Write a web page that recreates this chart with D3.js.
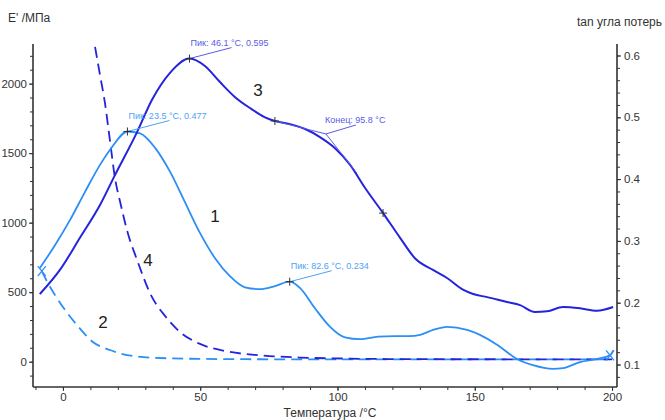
<!DOCTYPE html>
<html>
<head>
<meta charset="utf-8">
<script src="https://cdn.jsdelivr.net/npm/d3@7"></script>
<style>
  html, body { margin: 0; padding: 0; background: #fff; }
  svg { display: block; font-family: "Liberation Sans", Arial, sans-serif; }
</style>
</head>
<body>
<svg id="chart" width="665" height="420"></svg>
<script>
// Temperature sweep, °C
// Curve 1: tan δ, sample A (right axis)
const tan1T = [-8.4, -2.9, 2.6, 8.0, 13.5, 17.9, 23.5, 28.1, 33.5, 39.0, 44.4, 49.9, 55.4, 60.8, 66.3, 71.8, 77.2, 82.6, 86.3, 91.8, 97.3, 102.7, 108.2, 114.8, 120.9, 126.0, 130.1, 134.8, 139.9, 147.2, 151.9, 158.1, 165.4, 171.2, 178.5, 182.1, 188.3, 194.5, 199.3, 200.4];
const tan1V = [0.256, 0.293, 0.334, 0.379, 0.423, 0.452, 0.477, 0.474, 0.451, 0.412, 0.363, 0.313, 0.272, 0.243, 0.225, 0.222, 0.227, 0.234, 0.224, 0.191, 0.161, 0.144, 0.141, 0.145, 0.146, 0.146, 0.148, 0.156, 0.161, 0.156, 0.148, 0.132, 0.109, 0.099, 0.093, 0.094, 0.104, 0.109, 0.115, 0.123];

// Curve 3: tan δ, sample B (right axis)
const tan3T = [-8.4, -1.1, 6.2, 13.5, 18.9, 27.0, 32.4, 39.0, 46.1, 51.7, 57.2, 62.6, 68.1, 73.6, 77.2, 82.7, 88.2, 93.6, 99.1, 104.6, 110.0, 116.6, 122.8, 128.2, 134.8, 139.9, 145.7, 149.4, 154.5, 161.7, 166.5, 171.9, 176.3, 182.1, 188.3, 194.5, 200.4];
const tan3V = [0.214, 0.253, 0.305, 0.358, 0.406, 0.476, 0.528, 0.572, 0.595, 0.583, 0.557, 0.533, 0.515, 0.500, 0.494, 0.489, 0.481, 0.468, 0.450, 0.423, 0.386, 0.345, 0.305, 0.272, 0.253, 0.240, 0.221, 0.214, 0.209, 0.201, 0.196, 0.185, 0.186, 0.193, 0.191, 0.187, 0.193];

// Curve 2: storage modulus E', sample A (left axis, MPa)
const e2T = [-7.7, -5.5, -2.9, 0, 5.1, 10.9, 17.1, 27.3, 39.0, 57.2, 86.0, 130, 200];
const e2V = [652, 566, 480, 393, 264, 142, 84, 36, 24, 19, 17, 17, 17];

// Curve 4: storage modulus E', sample B (left axis, MPa)
const e4T = [11.7, 13.5, 15.3, 17.1, 18.9, 21.1, 23.3, 27.0, 32.4, 37.2, 42.6, 49.9, 59.0, 71.8, 86.3, 104.6, 130, 200];
const e4V = [2264, 2063, 1861, 1595, 1329, 1127, 948, 732, 466, 329, 214, 128, 77, 46, 30, 22, 18, 17];

// Axis ticks
const xTicks = [0, 50, 100, 150, 200];
const leftTicks = [0, 500, 1000, 1500, 2000];
const rightTicks = [0.1, 0.2, 0.3, 0.4, 0.5, 0.6];

// Peak / transition annotations
const peakLabels = ["Пик: 23.5 °C, 0.477", "Пик: 46.1 °C, 0.595", "Пик: 82.6 °C, 0.234"];
const peakT = [23.5, 46.1, 82.6];
const peakV = [0.477, 0.595, 0.234];
const endLabel = "Конец: 95.8 °C";
const endT = 95.8;
const curveNames = ["1", "2", "3", "4"];

const svg = d3.select("#chart");
const L = 33, R = 617, T = 44, B = 387;

const x = d3.scaleLinear().domain([-10.9, 201.8]).range([L, R]);
const yE = d3.scaleLinear().domain([-182, 2285]).range([B, T]);
const yTan = d3.scaleLinear().domain([0.0636, 0.6186]).range([B, T]);

const dark = "#2424dc";
const light = "#2b8ff5";
const darkText = "#5a5ae6";
const lightText = "#4ea2f5";
const axisCol = "#333";

svg.append("defs").append("clipPath").attr("id", "plot")
  .append("rect").attr("x", L).attr("y", T).attr("width", R - L).attr("height", B - T);

// Axes
function styleAxis(g) {
  g.select(".domain").attr("stroke", axisCol).attr("stroke-width", 1.6);
  g.selectAll(".tick line").attr("stroke", axisCol);
  g.selectAll("text").attr("fill", "#333").style("font-size", "11.5px");
}
const gx = svg.append("g").attr("transform", `translate(0,${B})`)
  .call(d3.axisBottom(x).tickValues(d3.range(-10, 201, 10)).tickSize(3).tickFormat(""))
  .call(g => g.select(".domain").attr("d", `M${L},0H${R}`));
styleAxis(gx);
svg.append("g").attr("transform", `translate(0,${B})`)
  .call(d3.axisBottom(x).tickValues(xTicks).tickSize(4).tickPadding(2).tickFormat(d3.format("d")))
  .call(g => g.select(".domain").remove())
  .call(styleAxis);

const gl = svg.append("g").attr("transform", `translate(${L},0)`)
  .call(d3.axisLeft(yE).tickValues(d3.range(-100, 2201, 100)).tickSize(3).tickFormat(""))
  .call(g => g.select(".domain").attr("d", `M0,${T}V${B}`));
styleAxis(gl);
svg.append("g").attr("transform", `translate(${L},0)`)
  .call(d3.axisLeft(yE).tickValues(leftTicks).tickSize(4).tickPadding(2).tickFormat(d3.format("d")))
  .call(g => g.select(".domain").remove())
  .call(styleAxis);

const gr = svg.append("g").attr("transform", `translate(${R},0)`)
  .call(d3.axisRight(yTan).tickValues(d3.range(0.08, 0.61, 0.02)).tickSize(3).tickFormat(""))
  .call(g => g.select(".domain").attr("d", `M0,${T}V${B}`));
styleAxis(gr);
svg.append("g").attr("transform", `translate(${R},0)`)
  .call(d3.axisRight(yTan).tickValues(rightTicks).tickSize(4).tickPadding(3).tickFormat(d3.format(".1f")))
  .call(g => g.select(".domain").remove())
  .call(styleAxis);

// Axis titles
svg.append("text").attr("x", 8).attr("y", 22).text("E' /МПа")
  .attr("fill", "#333").style("font-size", "12px");
svg.append("text").attr("x", 662).attr("y", 26).attr("text-anchor", "end").text("tan угла потерь")
  .attr("fill", "#333").style("font-size", "12px");
svg.append("text").attr("x", 330).attr("y", 417).attr("text-anchor", "middle").text("Температура /°C")
  .attr("fill", "#333").style("font-size", "12px");

// Curves
const plot = svg.append("g").attr("clip-path", "url(#plot)");
const lineTan = d3.line().x(d => x(d[0])).y(d => yTan(d[1])).curve(d3.curveMonotoneX);
const lineE = d3.line().x(d => x(d[0])).y(d => yE(d[1])).curve(d3.curveMonotoneX);
const zip = (a, b) => a.map((v, i) => [v, b[i]]);

plot.append("path").datum(zip(e2T, e2V)).attr("d", lineE)
  .attr("fill", "none").attr("stroke", light).attr("stroke-width", 1.8).attr("stroke-dasharray", "11,6");
plot.append("path").datum(zip(e4T, e4V)).attr("d", lineE)
  .attr("fill", "none").attr("stroke", dark).attr("stroke-width", 1.8).attr("stroke-dasharray", "11,6");
plot.append("path").datum(zip(tan1T, tan1V)).attr("d", lineTan)
  .attr("fill", "none").attr("stroke", light).attr("stroke-width", 1.8);
plot.append("path").datum(zip(tan3T, tan3V)).attr("d", lineTan)
  .attr("fill", "none").attr("stroke", dark).attr("stroke-width", 2);

// End-of-series markers on curve 2
function xMark(px, py, col) {
  svg.append("path").attr("d", `M${px-4},${py-5}L${px+4},${py+5}M${px+4},${py-5}L${px-4},${py+5}`)
    .attr("stroke", col).attr("stroke-width", 1.3).attr("fill", "none");
}
xMark(x(e2T[0]), yE(e2V[0]), light);
xMark(x(e2T[e2T.length - 1]) - 2, yE(e2V[e2V.length - 1]) - 4, light);

// Cross markers on tan δ curves
function plus(px, py) {
  svg.append("path").attr("d", `M${px-4},${py}H${px+4}M${px},${py-4}V${py+4}`)
    .attr("stroke", "#333").attr("stroke-width", 1);
}

// Peak annotations
const peakCols = [lightText, darkText, lightText];
peakLabels.forEach((lab, i) => {
  const px = x(peakT[i]), py = yTan(peakV[i]);
  const tx = px + 1, ty = py - 13;
  svg.append("line").attr("x1", px).attr("y1", py).attr("x2", px + 42).attr("y2", py - 11)
    .attr("stroke", peakCols[i]).attr("stroke-width", 1);
  svg.append("text").attr("x", tx).attr("y", ty).text(lab)
    .attr("fill", peakCols[i]).style("font-size", "9px");
  plus(px, py);
});

// Onset construction: two tangents meeting at the end temperature
const tA = 77.2, tB = 104.6;
const vA = tan3V[tan3T.indexOf(tA)], vB = tan3V[tan3T.indexOf(tB)];
const ix = x(endT), iy = yTan(0.473);
svg.append("line").attr("x1", x(tA)).attr("y1", yTan(vA)).attr("x2", ix).attr("y2", iy)
  .attr("stroke", darkText).attr("stroke-width", 1);
svg.append("line").attr("x1", ix).attr("y1", iy).attr("x2", x(107)).attr("y2", yTan(0.41))
  .attr("stroke", darkText).attr("stroke-width", 1);
svg.append("line").attr("x1", ix).attr("y1", iy).attr("x2", ix + 30).attr("y2", iy - 9)
  .attr("stroke", darkText).attr("stroke-width", 1);
svg.append("text").attr("x", ix - 1).attr("y", iy - 11).text(endLabel)
  .attr("fill", darkText).style("font-size", "9px");
plus(x(tA), yTan(vA));
plus(x(116.6), yTan(0.345));

// Curve numbers
const numPos = [[215, 222], [103, 328], [258, 96], [148, 266]];
curveNames.forEach((n, i) => {
  svg.append("text").attr("x", numPos[i][0]).attr("y", numPos[i][1]).text(n)
    .attr("fill", "#222").style("font-size", "17px").attr("text-anchor", "middle");
});
</script>
</body>
</html>
